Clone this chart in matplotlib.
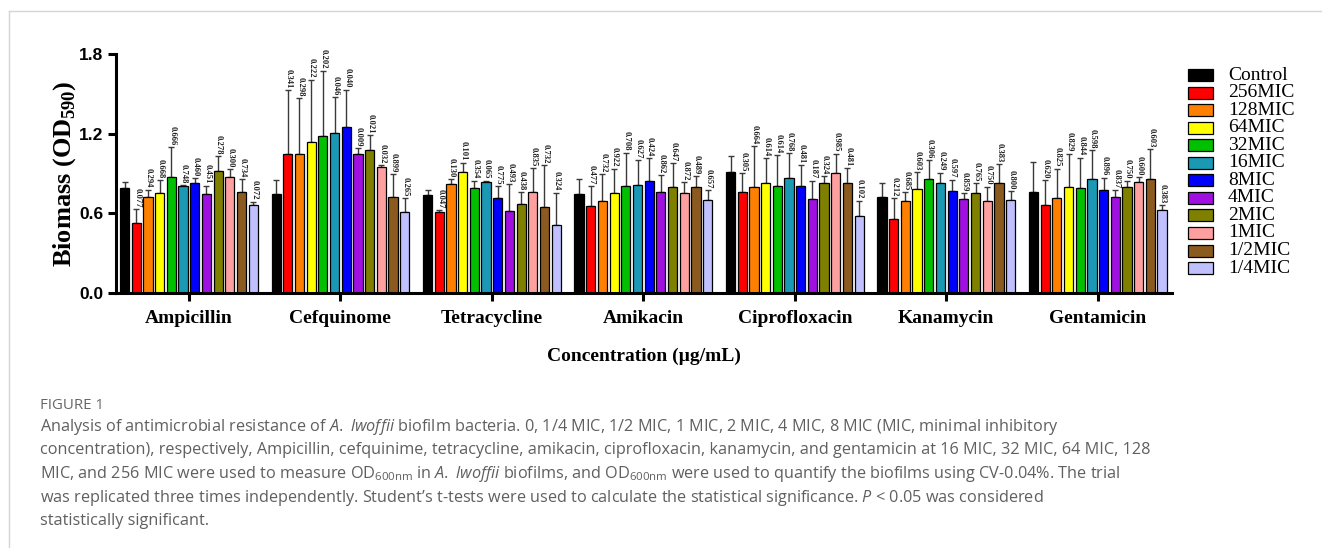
import numpy as np
import matplotlib
matplotlib.use("Agg")
import matplotlib.pyplot as plt
from matplotlib.patches import Rectangle
from matplotlib.lines import Line2D

plt.rcParams['mathtext.fontset'] = 'custom'
plt.rcParams['mathtext.rm'] = 'Open Sans'
plt.rcParams['mathtext.it'] = 'Open Sans:italic'
plt.rcParams['mathtext.bf'] = 'Liberation Serif:bold'

# Datos
drugs = ["Ampicillin", "Cefquinome", "Tetracycline", "Amikacin",
         "Ciprofloxacin", "Kanamycin", "Gentamicin"]
groups = ["Control", "256MIC", "128MIC", "64MIC", "32MIC", "16MIC", "8MIC",
          "4MIC", "2MIC", "1MIC", "1/2MIC", "1/4MIC"]
colors = ["#000000", "#ff0000", "#ff8000", "#ffff00", "#00c000", "#1a98b4",
          "#0000ff", "#a010e0", "#808000", "#ffa0a0", "#8b5a1e", "#c0c0ff"]

amp_mean = [0.793, 0.529, 0.720, 0.753, 0.873, 0.806, 0.826, 0.743, 0.916, 0.871, 0.760, 0.660]
amp_sd = [0.041, 0.101, 0.056, 0.098, 0.227, 0.007, 0.038, 0.065, 0.114, 0.060, 0.096, 0.028]
amp_p = ["", "0.077", "0.294", "0.668", "0.666", "0.748", "0.460", "0.451", "0.278", "0.300", "0.734", "0.072"]

cef_mean = [0.743, 1.049, 1.044, 1.137, 1.182, 1.207, 1.252, 1.049, 1.077, 0.946, 0.725, 0.608]
cef_sd = [0.108, 0.480, 0.422, 0.467, 0.492, 0.267, 0.277, 0.041, 0.113, 0.018, 0.171, 0.105]
cef_p = ["", "0.341", "0.298", "0.222", "0.202", "0.046", "0.040", "0.009", "0.021", "0.032", "0.899", "0.265"]

tet_mean = [0.738, 0.610, 0.823, 0.909, 0.793, 0.836, 0.713, 0.620, 0.673, 0.763, 0.645, 0.510]
tet_sd = [0.035, 0.013, 0.033, 0.072, 0.053, 0.010, 0.090, 0.198, 0.087, 0.176, 0.319, 0.245]
tet_p = ["", "0.047", "0.130", "0.101", "0.354", "0.065", "0.775", "0.493", "0.438", "0.835", "0.732", "0.324"]

ami_mean = [0.743, 0.653, 0.690, 0.755, 0.803, 0.811, 0.846, 0.758, 0.800, 0.755, 0.800, 0.703]
ami_sd = [0.118, 0.150, 0.204, 0.179, 0.254, 0.188, 0.168, 0.131, 0.176, 0.079, 0.079, 0.070]
ami_p = ["", "0.477", "0.732", "0.922", "0.708", "0.627", "0.424", "0.862", "0.647", "0.872", "0.489", "0.657"]

cip_mean = [0.911, 0.763, 0.798, 0.826, 0.808, 0.864, 0.803, 0.708, 0.826, 0.906, 0.828, 0.578]
cip_sd = [0.121, 0.138, 0.309, 0.188, 0.231, 0.188, 0.161, 0.138, 0.055, 0.141, 0.111, 0.115]
cip_p = ["", "0.305", "0.664", "0.614", "0.614", "0.768", "0.481", "0.187", "0.324", "0.985", "0.481", "0.102"]

kan_mean = [0.725, 0.560, 0.690, 0.781, 0.858, 0.828, 0.771, 0.710, 0.750, 0.693, 0.826, 0.698]
kan_sd = [0.106, 0.153, 0.068, 0.128, 0.142, 0.078, 0.082, 0.040, 0.076, 0.107, 0.143, 0.068]
kan_p = ["", "0.212", "0.685", "0.603", "0.306", "0.249", "0.597", "0.859", "0.765", "0.750", "0.383", "0.800"]

gen_mean = [0.758, 0.665, 0.713, 0.800, 0.793, 0.858, 0.778, 0.725, 0.800, 0.834, 0.858, 0.627]
gen_sd = [0.231, 0.184, 0.221, 0.249, 0.226, 0.219, 0.090, 0.051, 0.043, 0.037, 0.224, 0.033]
gen_p = ["", "0.620", "0.825", "0.829", "0.844", "0.598", "0.896", "0.837", "0.750", "0.600", "0.603", "0.383"]

means = np.array([amp_mean, cef_mean, tet_mean, ami_mean, cip_mean, kan_mean, gen_mean])
sds = np.array([amp_sd, cef_sd, tet_sd, ami_sd, cip_sd, kan_sd, gen_sd])
pvals = [amp_p, cef_p, tet_p, ami_p, cip_p, kan_p, gen_p]

W, H = 1322, 548
fig = plt.figure(figsize=(W / 100, H / 100), dpi=100)

# marco de la figura
fig.add_artist(Line2D([9 / W, 1], [1 - 11 / H, 1 - 11 / H], color="#d4d4d4", lw=1))
fig.add_artist(Line2D([9 / W, 9 / W], [0, 1 - 11 / H], color="#d4d4d4", lw=1))

ax = fig.add_axes([116 / W, 1 - 293 / H, (1172 - 116) / W, (293 - 54) / H])

pitch = 11.7 / 151.6
bw = 9.2 / 151.6
x = np.arange(len(drugs))
for j, g in enumerate(groups):
    xs = x + (j - 5.5) * pitch
    ax.bar(xs, means[:, j], width=bw, color=colors[j], edgecolor="black",
           linewidth=0.9, zorder=2)
    ax.errorbar(xs, means[:, j], yerr=[np.zeros(len(drugs)), sds[:, j]],
                fmt="none", ecolor="#3a3a3a", elinewidth=1.0, capsize=2.2,
                capthick=1.0, zorder=1)
    for i in range(len(drugs)):
        if pvals[i][j]:
            ax.text(xs[i] + 0.006, means[i, j] + sds[i, j] + 0.015, pvals[i][j],
                    rotation=-90, ha="center", va="bottom", fontsize=6.2,
                    family="Liberation Serif", fontweight="bold", color="#222222")

ax.set_xlim(-0.4815, 6.49)
ax.set_ylim(0, 1.8)
ax.set_yticks([0, 0.6, 1.2, 1.8])
ax.set_yticklabels(["0.0", "0.6", "1.2", "1.8"], family="Liberation Sans",
                   fontweight="bold", fontsize=12.5)
ax.set_xticks(x)
ax.set_xticklabels(drugs, family="Liberation Serif", fontweight="bold", fontsize=14)
ax.tick_params(axis="both", width=2.2, length=6, direction="out", pad=3)
ax.tick_params(axis="x", pad=6)
for s in ["top", "right"]:
    ax.spines[s].set_visible(False)
for s in ["left", "bottom"]:
    ax.spines[s].set_linewidth(2.2)

ax.set_ylabel("Biomass (OD$_{\\mathbf{590}}$)", family="Liberation Serif",
              fontweight="bold", fontsize=19, labelpad=1)
ax.set_xlabel("Concentration (µg/mL)", family="Liberation Serif",
              fontweight="bold", fontsize=14, labelpad=15)

# leyenda
for j, g in enumerate(groups):
    yc = 75 + j * 17.55
    fig.add_artist(Rectangle((1188 / W, 1 - (yc + 6) / H), 25 / W, 12 / H,
                             facecolor=colors[j], edgecolor="black", lw=0.9,
                             transform=fig.transFigure))
    fig.text(1228 / W, 1 - yc / H, g, family="Liberation Serif", fontsize=14,
             va="center", ha="left")

# pie de figura
cap_col = "#5f5f5f"
fig.text(40 / W, 1 - 409 / H, "FIGURE 1", family="Open Sans", fontsize=10.8,
         color="#666666", va="baseline")
lines = [
    "Analysis of antimicrobial resistance of $\\mathit{A.\\ lwoffii}$ biofilm bacteria. 0, 1/4 MIC, 1/2 MIC, 1 MIC, 2 MIC, 4 MIC, 8 MIC (MIC, minimal inhibitory",
    "concentration), respectively, Ampicillin, cefquinime, tetracycline, amikacin, ciprofloxacin, kanamycin, and gentamicin at 16 MIC, 32 MIC, 64 MIC, 128",
    "MIC, and 256 MIC were used to measure OD$_{\\mathrm{600nm}}$ in $\\mathit{A.\\ lwoffii}$ biofilms, and OD$_{\\mathrm{600nm}}$ were used to quantify the biofilms using CV-0.04%. The trial",
    "was replicated three times independently. Student’s t-tests were used to calculate the statistical significance. $\\mathit{P}$ < 0.05 was considered",
    "statistically significant.",
]
for k, ln in enumerate(lines):
    fig.text(40 / W, 1 - (431 + k * 23.5) / H, ln, family="Open Sans",
             fontsize=11.7, color=cap_col, va="baseline")

fig.savefig("out.png", dpi=100)
